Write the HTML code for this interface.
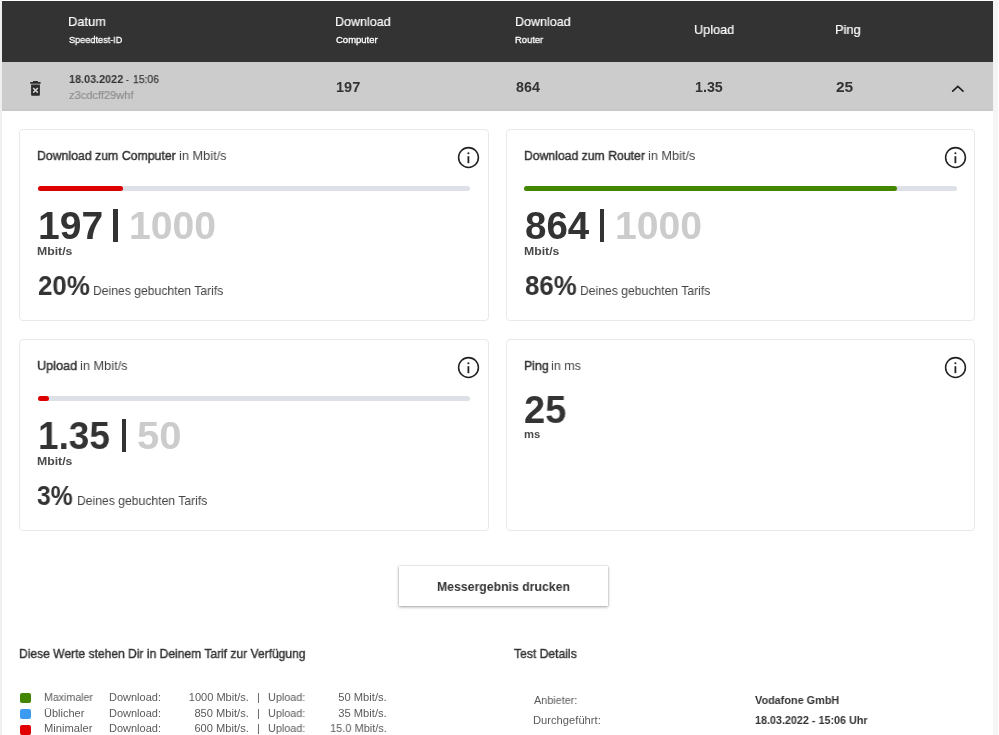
<!DOCTYPE html>
<html lang="de">
<head>
<meta charset="utf-8">
<title>Speedtest Messergebnisse</title>
<style>
html,body{margin:0;padding:0;}
body{width:999px;height:735px;overflow:hidden;background:#fff;position:relative;font-family:"Liberation Sans",sans-serif;}
.t{position:absolute;white-space:pre;display:block;will-change:transform;}
.abs{position:absolute;}
.hdr{left:2px;top:1px;width:991px;height:61px;background:#333;}
.row{left:2px;top:62px;width:991px;height:49px;background:#ccc;}
.rowb{left:2px;top:109px;width:991px;height:2px;background:#c8c8c8;}
.rstrip{left:993px;top:0;width:4.5px;height:735px;background:#f5f5f5;}
.card{border:1px solid #e9e9e9;border-radius:4px;background:#fff;box-sizing:border-box;}
.track{height:5.4px;border-radius:3px;background:#dde0e6;}
.fill{height:5.4px;border-radius:3px;}
.btn{left:399px;top:566px;width:209px;height:40px;background:#fff;box-shadow:0 1px 3px rgba(0,0,0,0.35),0 0 1px rgba(0,0,0,0.25);}
.sq{width:10.5px;height:10px;border-radius:2px;}
</style>
</head>
<body>
<div class="abs hdr"></div>
<div class="abs row"></div>
<div class="abs rowb"></div>
<div class="abs rstrip"></div>
<div class="abs" style="left:0;top:0;width:1.5px;height:735px;background:#efefef"></div>

<!-- trash icon -->
<svg class="abs" style="left:28.6px;top:80px" width="13" height="17" viewBox="0 0 13 17">
  <path d="M4.1 0.9h4.8v1.2H4.1z M1.2 2h10.4v1.8H1.2z M2.1 4.6h8.8v10.1a1 1 0 0 1-1 1H3.1a1 1 0 0 1-1-1z" fill="#2b2b2b"/>
  <path d="M4.2 8l4.6 4.6M8.8 8l-4.6 4.6" stroke="#d4d4d4" stroke-width="1.5" fill="none"/>
</svg>
<!-- chevron -->
<svg class="abs" style="left:949px;top:82px" width="18" height="13" viewBox="0 0 18 13">
  <path d="M3.7 9.2L8.85 4.3L14 9.2" stroke="#222" stroke-width="1.7" fill="none" stroke-linecap="round" stroke-linejoin="miter"/>
</svg>

<!-- cards -->
<div class="abs card" style="left:19px;top:129px;width:469.7px;height:191.7px"></div>
<div class="abs card" style="left:506.1px;top:129px;width:469.3px;height:191.7px"></div>
<div class="abs card" style="left:19px;top:338.8px;width:469.7px;height:191.8px"></div>
<div class="abs card" style="left:506.1px;top:338.8px;width:469.3px;height:191.8px"></div>

<!-- progress bars -->
<div class="abs track" style="left:37.8px;top:185.6px;width:432.6px"></div>
<div class="abs fill" style="left:37.8px;top:185.6px;width:84.9px;background:#de0000"></div>
<div class="abs track" style="left:524.4px;top:185.6px;width:432.2px"></div>
<div class="abs fill" style="left:524.4px;top:185.6px;width:372.4px;background:#438700"></div>
<div class="abs track" style="left:37.8px;top:395.6px;width:432.6px"></div>
<div class="abs fill" style="left:37.8px;top:395.6px;width:11.4px;background:#de0000"></div>

<!-- pipes -->
<div class="abs" style="left:113.4px;top:208.6px;width:4.4px;height:33.6px;background:#333"></div>
<div class="abs" style="left:599.8px;top:208.6px;width:4.4px;height:33.6px;background:#333"></div>
<div class="abs" style="left:121.9px;top:418.6px;width:4.4px;height:33.6px;background:#333"></div>

<!-- info icons -->
<svg class="abs" style="left:456.4px;top:145.4px" width="25" height="25" viewBox="0 0 25 25"><circle cx="12.5" cy="12.5" r="9.9" fill="none" stroke="#222" stroke-width="1.55"/><circle cx="12.4" cy="8.3" r="1.05" fill="#222"/><path d="M12.4 11.2v7" stroke="#222" stroke-width="1.8"/></svg>
<svg class="abs" style="left:942.9px;top:145.4px" width="25" height="25" viewBox="0 0 25 25"><circle cx="12.5" cy="12.5" r="9.9" fill="none" stroke="#222" stroke-width="1.55"/><circle cx="12.4" cy="8.3" r="1.05" fill="#222"/><path d="M12.4 11.2v7" stroke="#222" stroke-width="1.8"/></svg>
<svg class="abs" style="left:456.4px;top:355.4px" width="25" height="25" viewBox="0 0 25 25"><circle cx="12.5" cy="12.5" r="9.9" fill="none" stroke="#222" stroke-width="1.55"/><circle cx="12.4" cy="8.3" r="1.05" fill="#222"/><path d="M12.4 11.2v7" stroke="#222" stroke-width="1.8"/></svg>
<svg class="abs" style="left:942.9px;top:355.4px" width="25" height="25" viewBox="0 0 25 25"><circle cx="12.5" cy="12.5" r="9.9" fill="none" stroke="#222" stroke-width="1.55"/><circle cx="12.4" cy="8.3" r="1.05" fill="#222"/><path d="M12.4 11.2v7" stroke="#222" stroke-width="1.8"/></svg>

<!-- button -->
<div class="abs btn"></div>

<!-- legend squares -->
<div class="abs sq" style="left:20px;top:693px;background:#428600"></div>
<div class="abs sq" style="left:20px;top:709px;background:#3b9bf0"></div>
<div class="abs sq" style="left:20px;top:724.5px;background:#e00000"></div>

<span class="t" style="left:68.44px;top:14px;font-size:13.5px;line-height:16px;color:#fff;transform:scaleX(0.9553);transform-origin:0 0;-webkit-text-stroke:0.2px #fff;">Datum</span>
<span class="t" style="left:68.92px;top:34px;font-size:9.5px;line-height:12px;color:#fff;transform:scaleX(0.9633);transform-origin:0 0;-webkit-text-stroke:0.3px #fff;">Speedtest-ID</span>
<span class="t" style="left:335.47px;top:14px;font-size:13.5px;line-height:16px;color:#fff;transform:scaleX(0.9270);transform-origin:0 0;-webkit-text-stroke:0.2px #fff;">Download</span>
<span class="t" style="left:335.90px;top:34px;font-size:9.5px;line-height:12px;color:#fff;-webkit-text-stroke:0.3px #fff;">Computer</span>
<span class="t" style="left:515.27px;top:14px;font-size:13.5px;line-height:16px;color:#fff;transform:scaleX(0.9270);transform-origin:0 0;-webkit-text-stroke:0.2px #fff;">Download</span>
<span class="t" style="left:515.46px;top:34px;font-size:9.5px;line-height:12px;color:#fff;transform:scaleX(0.9874);transform-origin:0 0;-webkit-text-stroke:0.3px #fff;">Router</span>
<span class="t" style="left:694.46px;top:22px;font-size:13.5px;line-height:16px;color:#fff;transform:scaleX(0.9415);transform-origin:0 0;-webkit-text-stroke:0.2px #fff;">Upload</span>
<span class="t" style="left:835.25px;top:22px;font-size:13.5px;line-height:16px;color:#fff;transform:scaleX(0.9505);transform-origin:0 0;-webkit-text-stroke:0.2px #fff;">Ping</span>
<span class="t" style="left:68.99px;top:72px;font-size:11.5px;line-height:14px;color:#333;font-weight:700;transform:scaleX(0.9416);transform-origin:0 0;">18.03.2022</span>
<span class="t" style="left:125.85px;top:72px;font-size:11.5px;line-height:14px;color:#3a3a3a;transform:scaleX(0.6909);transform-origin:0 0;-webkit-text-stroke:0.2px #3a3a3a;">-</span>
<span class="t" style="left:133.23px;top:72px;font-size:11.5px;line-height:14px;color:#3a3a3a;transform:scaleX(0.8982);transform-origin:0 0;-webkit-text-stroke:0.25px #3a3a3a;">15:06</span>
<span class="t" style="left:68.82px;top:88px;font-size:11.5px;line-height:14px;color:#8e8e8e;transform:scaleX(0.9639);transform-origin:0 0;-webkit-text-stroke:0.2px #8e8e8e;">z3cdcff29whf</span>
<span class="t" style="left:336.22px;top:79px;font-size:14px;line-height:16px;color:#333;font-weight:700;transform:scaleX(1.0364);transform-origin:0 0;">197</span>
<span class="t" style="left:515.79px;top:79px;font-size:14px;line-height:16px;color:#333;font-weight:700;transform:scaleX(1.0198);transform-origin:0 0;">864</span>
<span class="t" style="left:695.24px;top:79px;font-size:14px;line-height:16px;color:#333;font-weight:700;transform:scaleX(1.0192);transform-origin:0 0;">1.35</span>
<span class="t" style="left:835.65px;top:79px;font-size:14px;line-height:16px;color:#333;font-weight:700;transform:scaleX(1.1051);transform-origin:0 0;">25</span>
<span class="t" style="left:37.07px;top:148px;font-size:13.3px;line-height:15px;color:#333;transform:scaleX(0.9250);transform-origin:0 0;-webkit-text-stroke:0.45px #333;">Download zum Computer</span>
<span class="t" style="left:179.08px;top:148px;font-size:13.3px;line-height:15px;color:#444;transform:scaleX(0.9617);transform-origin:0 0;">in Mbit/s</span>
<span class="t" style="left:37.87px;top:206px;font-size:38.5px;line-height:40px;color:#333;font-weight:700;transform:scaleX(1.0133);transform-origin:0 0;">197</span>
<span class="t" style="left:128.66px;top:206px;font-size:38.5px;line-height:40px;color:#ccc;font-weight:700;transform:scaleX(1.0172);transform-origin:0 0;">1000</span>
<span class="t" style="left:37.16px;top:245px;font-size:11px;line-height:13px;color:#4a4a4a;font-weight:700;transform:scaleX(1.1148);transform-origin:0 0;">Mbit/s</span>
<span class="t" style="left:37.58px;top:271px;font-size:28px;line-height:30px;color:#333;font-weight:700;transform:scaleX(0.9235);transform-origin:0 0;">20%</span>
<span class="t" style="left:93.19px;top:283px;font-size:13.3px;line-height:15px;color:#444;transform:scaleX(0.9149);transform-origin:0 0;">Deines gebuchten Tarifs</span>
<span class="t" style="left:523.78px;top:148px;font-size:13.3px;line-height:15px;color:#333;transform:scaleX(0.9182);transform-origin:0 0;-webkit-text-stroke:0.45px #333;">Download zum Router</span>
<span class="t" style="left:648.18px;top:148px;font-size:13.3px;line-height:15px;color:#444;transform:scaleX(0.9575);transform-origin:0 0;">in Mbit/s</span>
<span class="t" style="left:524.55px;top:206px;font-size:38.5px;line-height:40px;color:#333;font-weight:700;transform:scaleX(0.9976);transform-origin:0 0;">864</span>
<span class="t" style="left:615.16px;top:206px;font-size:38.5px;line-height:40px;color:#ccc;font-weight:700;transform:scaleX(1.0172);transform-origin:0 0;">1000</span>
<span class="t" style="left:523.86px;top:245px;font-size:11px;line-height:13px;color:#4a4a4a;font-weight:700;transform:scaleX(1.1148);transform-origin:0 0;">Mbit/s</span>
<span class="t" style="left:524.51px;top:271px;font-size:28px;line-height:30px;color:#333;font-weight:700;transform:scaleX(0.9211);transform-origin:0 0;">86%</span>
<span class="t" style="left:579.89px;top:283px;font-size:13.3px;line-height:15px;color:#444;transform:scaleX(0.9149);transform-origin:0 0;">Deines gebuchten Tarifs</span>
<span class="t" style="left:37.05px;top:358px;font-size:13.3px;line-height:15px;color:#333;transform:scaleX(0.9540);transform-origin:0 0;-webkit-text-stroke:0.45px #333;">Upload</span>
<span class="t" style="left:79.58px;top:358px;font-size:13.3px;line-height:15px;color:#444;transform:scaleX(0.9617);transform-origin:0 0;">in Mbit/s</span>
<span class="t" style="left:37.80px;top:416px;font-size:38.5px;line-height:40px;color:#333;font-weight:700;transform:scaleX(0.9600);transform-origin:0 0;">1.35</span>
<span class="t" style="left:136.60px;top:416px;font-size:38.5px;line-height:40px;color:#ccc;font-weight:700;transform:scaleX(1.0400);transform-origin:0 0;">50</span>
<span class="t" style="left:37.16px;top:455px;font-size:11px;line-height:13px;color:#4a4a4a;font-weight:700;transform:scaleX(1.1148);transform-origin:0 0;">Mbit/s</span>
<span class="t" style="left:37.34px;top:481px;font-size:28px;line-height:30px;color:#333;font-weight:700;transform:scaleX(0.8846);transform-origin:0 0;">3%</span>
<span class="t" style="left:77.09px;top:493px;font-size:13.3px;line-height:15px;color:#444;transform:scaleX(0.9149);transform-origin:0 0;">Deines gebuchten Tarifs</span>
<span class="t" style="left:523.77px;top:358px;font-size:13.3px;line-height:15px;color:#333;transform:scaleX(0.9293);transform-origin:0 0;-webkit-text-stroke:0.45px #333;">Ping</span>
<span class="t" style="left:550.59px;top:358px;font-size:13.3px;line-height:15px;color:#444;transform:scaleX(0.9443);transform-origin:0 0;">in ms</span>
<span class="t" style="left:524.37px;top:390px;font-size:38.5px;line-height:40px;color:#333;font-weight:700;transform:scaleX(0.9852);transform-origin:0 0;">25</span>
<span class="t" style="left:523.93px;top:428px;font-size:11px;line-height:13px;color:#4a4a4a;font-weight:700;transform:scaleX(1.0237);transform-origin:0 0;">ms</span>
<span class="t" style="left:436.79px;top:579px;font-size:13px;line-height:15px;color:#333;font-weight:700;transform:scaleX(0.9436);transform-origin:0 0;">Messergebnis drucken</span>
<span class="t" style="left:18.77px;top:646px;font-size:13px;line-height:15px;color:#333;transform:scaleX(0.9280);transform-origin:0 0;-webkit-text-stroke:0.4px #333;">Diese Werte stehen Dir in Deinem Tarif zur Verfügung</span>
<span class="t" style="left:43.88px;top:691px;font-size:11px;line-height:13px;color:#5a5a5a;transform:scaleX(0.9648);transform-origin:0 0;">Maximaler</span>
<span class="t" style="left:109.35px;top:691px;font-size:11px;line-height:13px;color:#5a5a5a;transform:scaleX(0.9950);transform-origin:0 0;">Download:</span>
<span class="t" style="left:188.80px;top:691px;font-size:11px;line-height:13px;color:#5a5a5a;transform:scaleX(1.0043);transform-origin:100% 0;">1000 Mbit/s.</span>
<span class="t" style="left:257.30px;top:691px;font-size:11px;line-height:13px;color:#5a5a5a;">|</span>
<span class="t" style="left:268.46px;top:691px;font-size:11px;line-height:13px;color:#5a5a5a;transform:scaleX(0.9848);transform-origin:0 0;">Upload:</span>
<span class="t" style="left:339.27px;top:691px;font-size:11px;line-height:13px;color:#5a5a5a;transform:scaleX(1.0162);transform-origin:100% 0;">50 Mbit/s.</span>
<span class="t" style="left:43.85px;top:707px;font-size:11px;line-height:13px;color:#5a5a5a;">Üblicher</span>
<span class="t" style="left:109.35px;top:707px;font-size:11px;line-height:13px;color:#5a5a5a;transform:scaleX(0.9950);transform-origin:0 0;">Download:</span>
<span class="t" style="left:195.06px;top:707px;font-size:11px;line-height:13px;color:#5a5a5a;transform:scaleX(1.0105);transform-origin:100% 0;">850 Mbit/s.</span>
<span class="t" style="left:257.30px;top:707px;font-size:11px;line-height:13px;color:#5a5a5a;">|</span>
<span class="t" style="left:268.46px;top:707px;font-size:11px;line-height:13px;color:#5a5a5a;transform:scaleX(0.9848);transform-origin:0 0;">Upload:</span>
<span class="t" style="left:339.27px;top:707px;font-size:11px;line-height:13px;color:#5a5a5a;transform:scaleX(1.0162);transform-origin:100% 0;">35 Mbit/s.</span>
<span class="t" style="left:43.84px;top:722px;font-size:11px;line-height:13px;color:#5a5a5a;transform:scaleX(1.0160);transform-origin:0 0;">Minimaler</span>
<span class="t" style="left:109.35px;top:722px;font-size:11px;line-height:13px;color:#5a5a5a;transform:scaleX(0.9950);transform-origin:0 0;">Download:</span>
<span class="t" style="left:195.06px;top:722px;font-size:11px;line-height:13px;color:#5a5a5a;transform:scaleX(1.0105);transform-origin:100% 0;">600 Mbit/s.</span>
<span class="t" style="left:257.30px;top:722px;font-size:11px;line-height:13px;color:#5a5a5a;">|</span>
<span class="t" style="left:268.46px;top:722px;font-size:11px;line-height:13px;color:#5a5a5a;transform:scaleX(0.9848);transform-origin:0 0;">Upload:</span>
<span class="t" style="left:330.00px;top:722px;font-size:11px;line-height:13px;color:#5a5a5a;transform:scaleX(0.9973);transform-origin:100% 0;">15.0 Mbit/s.</span>
<span class="t" style="left:514.47px;top:646px;font-size:13px;line-height:15px;color:#333;transform:scaleX(0.9338);transform-origin:0 0;-webkit-text-stroke:0.4px #333;">Test Details</span>
<span class="t" style="left:534.20px;top:694px;font-size:11px;line-height:13px;color:#5a5a5a;transform:scaleX(0.9837);transform-origin:0 0;">Anbieter:</span>
<span class="t" style="left:754.50px;top:694px;font-size:11.2px;line-height:13px;color:#333;font-weight:700;transform:scaleX(0.9698);transform-origin:0 0;">Vodafone GmbH</span>
<span class="t" style="left:533.44px;top:714px;font-size:11px;line-height:13px;color:#5a5a5a;transform:scaleX(1.0169);transform-origin:0 0;">Durchgeführt:</span>
<span class="t" style="left:754.78px;top:714px;font-size:11.2px;line-height:13px;color:#333;font-weight:700;transform:scaleX(0.9629);transform-origin:0 0;">18.03.2022 - 15:06 Uhr</span>
</body>
</html>
